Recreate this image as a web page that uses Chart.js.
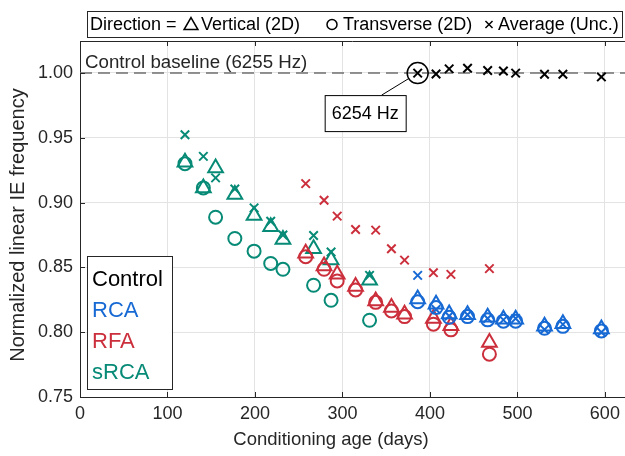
<!DOCTYPE html>
<html>
<head>
<meta charset="utf-8">
<script src="https://cdn.jsdelivr.net/npm/chart.js@4.4.1/dist/chart.umd.min.js"></script>
<style>
  html, body { margin: 0; padding: 0; background: #fff; overflow: hidden; }
  #wrap { width: 625px; height: 456px; position: relative; }
  canvas { display: block; }
</style>
</head>
<body>
<div id="wrap"><canvas id="chart"></canvas></div>
<script>
const FONT = "'Liberation Sans', Arial, Helvetica, sans-serif";
const INK = '#262626';

// Control baseline and the single control measurement, in Hz
const baselineHz = 6255;
const controlHz = 6254;

const xTicks = [0, 100, 200, 300, 400, 500, 600];
const yTicks = [0.75, 0.80, 0.85, 0.90, 0.95, 1.00];

const groupNames = ['Control', 'RCA', 'RFA', 'sRCA'];
const groupColors = ['#000000', '#1769d4', '#cc2f3c', '#078a76'];

// Control (uncorrected average only)
const controlDays = [386, 407, 422, 443, 466, 484, 498, 531, 552, 596];
const controlAverage = [controlHz / baselineHz, 0.9992, 1.0031, 1.0036, 1.0018, 1.0015, 0.9998, 0.9990, 0.9990, 0.9969];

// RCA
const rcaDays = [386, 407, 422, 443, 466, 484, 498, 531, 552, 596];
const rcaVertical = [0.8255, 0.8215, 0.8140, 0.8135, 0.8115, 0.8100, 0.8100, 0.8045, 0.8065, 0.8025];
const rcaTransverse = [0.8235, 0.8190, 0.8115, 0.8120, 0.8095, 0.8085, 0.8085, 0.8030, 0.8045, 0.8010];
const rcaAverage = [0.8438, 0.8175, 0.8125, 0.8135, 0.8105, 0.8095, 0.8105, 0.8020, 0.8060, 0.8000];

// RFA
const rfaDays = [258, 279, 294, 315, 338, 356, 371, 404, 424, 468];
const rfaVertical = [0.8608, 0.8510, 0.8446, 0.8352, 0.8241, 0.8190, 0.8138, 0.8105, 0.8050, 0.7920];
const rfaTransverse = [0.8582, 0.8485, 0.8395, 0.8326, 0.8230, 0.8164, 0.8120, 0.8062, 0.8018, 0.7830];
const rfaAverage = [0.9146, 0.9018, 0.8895, 0.8792, 0.8787, 0.8644, 0.8556, 0.8459, 0.8446, 0.8490];

// sRCA
const srcaDays = [120, 141, 155, 177, 199, 218, 232, 267, 287, 331];
const srcaVertical = [0.9310, 0.9113, 0.9267, 0.9062, 0.8900, 0.8813, 0.8715, 0.8644, 0.8556, 0.8400];
const srcaTransverse = [0.9300, 0.9113, 0.8887, 0.8723, 0.8625, 0.8530, 0.8485, 0.8362, 0.8246, 0.8092];
const srcaAverage = [0.9523, 0.9356, 0.9190, 0.9105, 0.8959, 0.8856, 0.8750, 0.8746, 0.8618, 0.8438];

function points(days, values) {
  return days.map((d, i) => ({ x: d, y: values[i] }));
}

function markers(days, values, color, style, radius) {
  return {
    data: points(days, values),
    pointStyle: style,
    pointRadius: radius,
    pointHoverRadius: radius,
    borderColor: color,
    backgroundColor: 'rgba(0,0,0,0)',
    pointBorderWidth: 2,
    borderWidth: 2,
    showLine: false
  };
}

const ctrlPoint = { x: controlDays[0], y: controlHz / baselineHz };

const datasets = [
  markers(controlDays, controlAverage, '#000000', 'crossRot', 6),
  {
    data: [ctrlPoint], pointStyle: 'circle', pointRadius: 10.5, pointHoverRadius: 10.5,
    borderColor: '#000000', backgroundColor: 'rgba(0,0,0,0)', pointBorderWidth: 1.5, showLine: false
  },
  markers(rcaDays, rcaVertical, groupColors[1], 'triangle', 8.5),
  markers(rcaDays, rcaTransverse, groupColors[1], 'circle', 6.5),
  markers(rcaDays, rcaAverage, groupColors[1], 'crossRot', 6),
  markers(rfaDays, rfaVertical, groupColors[2], 'triangle', 8.5),
  markers(rfaDays, rfaTransverse, groupColors[2], 'circle', 6.5),
  markers(rfaDays, rfaAverage, groupColors[2], 'crossRot', 6),
  markers(srcaDays, srcaVertical, groupColors[3], 'triangle', 8.5),
  markers(srcaDays, srcaTransverse, groupColors[3], 'circle', 6.5),
  markers(srcaDays, srcaAverage, groupColors[3], 'crossRot', 6),
  {
    // dashed control baseline at 1.0
    type: 'line',
    data: [{ x: 0, y: baselineHz / baselineHz }, { x: 623, y: baselineHz / baselineHz }],
    borderColor: '#707070', borderWidth: 1.5, borderDash: [12, 6],
    pointRadius: 0, pointHoverRadius: 0, fill: false
  }
];

// axis box with inward ticks and the x tick labels, MATLAB style
const framePlugin = {
  id: 'frame',
  afterDraw(chart) {
    const { ctx, chartArea: a, scales: { x, y } } = chart;
    ctx.save();
    ctx.strokeStyle = INK;
    ctx.lineWidth = 1;
    ctx.beginPath();
    ctx.moveTo(a.left, a.top + 0.5);
    ctx.lineTo(a.right, a.top + 0.5);
    xTicks.forEach(v => {
      const px = Math.round(x.getPixelForValue(v)) + 0.5;
      ctx.moveTo(px, a.bottom); ctx.lineTo(px, a.bottom - 5);
      ctx.moveTo(px, a.top); ctx.lineTo(px, a.top + 5);
    });
    yTicks.forEach(v => {
      const py = Math.round(y.getPixelForValue(v)) + 0.5;
      ctx.moveTo(a.left, py); ctx.lineTo(a.left + 5, py);
    });
    ctx.stroke();

    ctx.fillStyle = INK;
    ctx.font = '18px ' + FONT;
    ctx.textAlign = 'center';
    ctx.textBaseline = 'middle';
    xTicks.forEach(v => ctx.fillText(String(v), x.getPixelForValue(v), a.bottom + 17));
    ctx.restore();
  }
};

// axis titles, baseline caption, control callout and the two legends
const notesPlugin = {
  id: 'notes',
  afterDraw(chart) {
    const { ctx, scales: { x, y } } = chart;
    const dp = Chart.helpers.drawPoint;
    ctx.save();

    // axis titles
    ctx.fillStyle = INK;
    ctx.textAlign = 'center';
    ctx.textBaseline = 'middle';
    ctx.font = '18.5px ' + FONT;
    ctx.fillText('Conditioning age (days)', 331, 440);
    ctx.save();
    ctx.translate(18, 225);
    ctx.rotate(-Math.PI / 2);
    ctx.font = '20px ' + FONT;
    ctx.fillText('Normalized linear IE frequency', 0, 0);
    ctx.restore();

    // baseline caption
    ctx.font = '18.7px ' + FONT;
    ctx.textAlign = 'left';
    ctx.textBaseline = 'alphabetic';
    ctx.fillText('Control baseline (' + baselineHz + ' Hz)', 85, 68);

    // callout for the control point
    const cx = x.getPixelForValue(ctrlPoint.x);
    const cy = y.getPixelForValue(ctrlPoint.y);
    const bx = cx - 93, by = cy + 22, bw = 81, bh = 36;
    const tx = cx - 36, ty = by;
    const len = Math.hypot(tx - cx, ty - cy);
    ctx.strokeStyle = '#000';
    ctx.lineWidth = 1;
    ctx.beginPath();
    ctx.moveTo(cx + (tx - cx) / len * 10.5, cy + (ty - cy) / len * 10.5);
    ctx.lineTo(tx, ty);
    ctx.stroke();
    ctx.fillStyle = '#fff';
    ctx.fillRect(bx, by, bw, bh);
    ctx.strokeRect(bx + 0.5, by + 0.5, bw, bh);
    ctx.fillStyle = '#000';
    ctx.font = '18px ' + FONT;
    ctx.textAlign = 'center';
    ctx.textBaseline = 'middle';
    ctx.fillText(controlHz + ' Hz', bx + bw / 2, by + bh / 2 + 1);

    // direction legend above the axes
    ctx.fillStyle = '#fff';
    ctx.fillRect(87, 11, 535, 26);
    ctx.strokeStyle = INK;
    ctx.strokeRect(87.5, 11.5, 535, 26);
    ctx.font = '18px ' + FONT;
    ctx.textAlign = 'left';
    ctx.fillStyle = '#000';
    const ly = 24.5;
    const mark = (style, r, mx) => {
      ctx.strokeStyle = '#000';
      ctx.fillStyle = 'rgba(0,0,0,0)';
      ctx.lineWidth = 1.5;
      dp(ctx, { pointStyle: style, radius: r, borderWidth: 1.5, rotation: 0 }, mx, ly + (style === 'triangle' ? 1 : 0));
      ctx.fillStyle = '#000';
    };
    ctx.fillText('Direction =', 90, ly + 1);
    mark('triangle', 8, 191);
    ctx.fillText('Vertical (2D)', 201, ly + 1);
    mark('circle', 5, 332);
    ctx.fillText('Transverse (2D)', 343, ly + 1);
    mark('crossRot', 5, 489);
    ctx.fillText('Average (Unc.)', 498, ly + 1);

    // group legend inside the axes
    ctx.fillStyle = '#fff';
    ctx.fillRect(87, 256, 85, 133);
    ctx.strokeStyle = INK;
    ctx.lineWidth = 1;
    ctx.strokeRect(87.5, 256.5, 85, 133);
    ctx.font = '22px ' + FONT;
    ctx.textBaseline = 'middle';
    groupNames.forEach((name, i) => {
      ctx.fillStyle = groupColors[i];
      ctx.fillText(name, 92, 280 + i * 31);
    });
    ctx.restore();
  }
};

new Chart(document.getElementById('chart'), {
  type: 'scatter',
  data: { datasets },
  options: {
    responsive: true,
    maintainAspectRatio: false,
    animation: false,
    devicePixelRatio: 1,
    layout: { autoPadding: false, padding: { top: 41, right: 0, left: 0, bottom: 0 } },
    plugins: { legend: { display: false }, tooltip: { enabled: false } },
    scales: {
      x: {
        type: 'linear', min: 0, max: 623,
        afterBuildTicks: s => { s.ticks = xTicks.map(v => ({ value: v })); },
        afterFit: s => { s.height = 59; },
        grid: { color: '#e3e3e3', drawTicks: false },
        border: { display: true, color: INK },
        ticks: { display: false }
      },
      y: {
        type: 'linear', min: 0.75, max: 1.0246,
        afterBuildTicks: s => { s.ticks = yTicks.map(v => ({ value: v })); },
        afterFit: s => { s.width = 80; },
        grid: { color: '#e3e3e3', drawTicks: false },
        border: { display: true, color: INK },
        ticks: { color: INK, padding: 7, font: { family: FONT, size: 18 }, callback: v => v.toFixed(2) }
      }
    }
  },
  plugins: [framePlugin, notesPlugin]
});
</script>
</body>
</html>
